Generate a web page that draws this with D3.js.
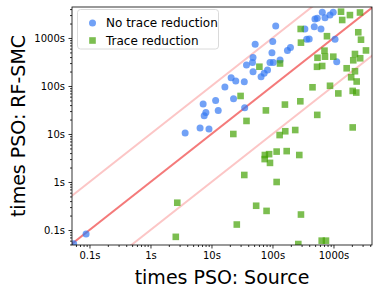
<!DOCTYPE html>
<html>
<head>
<script src="https://d3js.org/d3.v7.min.js"></script>
<style>
  body { margin: 0; background: #fff; }
  text { font-family: "DejaVu Sans", sans-serif; }
</style>
</head>
<body>
<svg width="379" height="295" id="chart"></svg>
<script>
// seconds
const noReduxX = [0.055, 0.088, 3.7, 6.5, 9.1, 7.3, 11.7, 8.1, 7.6, 12.9, 23, 35, 16.6, 21, 25, 34.5, 37.5, 47, 48, 52,
  48, 65, 73, 83, 91, 103, 133, 98, 101, 113, 176, 197, 340, 364, 400, 484, 624, 497, 542, 655, 726, 877, 990, 1060, 1130];
const noReduxY = [0.052, 0.083, 10.5, 13.3, 12.7, 42, 50, 28, 24, 31, 54, 35, 95, 149, 127, 123, 274, 309, 392, 740,
  199, 156, 184, 215, 309, 309, 348, 494, 840, 1780, 550, 630, 1540, 940, 950, 1720, 1540, 2490, 2570, 3430, 2650, 3000, 3430, 940, 321];

const reduxX = [2.6, 2.75, 22.8, 26, 30, 34.5, 37.5, 54, 61, 78, 75, 88, 74.5, 91, 80, 117, 117, 131, 133, 162, 160, 171,
  236, 265, 275, 286, 290, 293, 293, 453, 542, 547, 537, 641, 653, 712, 726, 753, 782, 877, 993, 1200, 1330, 1390, 1645,
  1860, 1950, 2065, 2065, 2110, 2250, 2250, 2365, 2400, 2550, 2720, 2740, 2825, 3410];
const reduxY = [0.072, 0.37, 10, 0.13, 62, 1.4, 18.7, 0.32, 252, 31, 3.65, 3.8, 3.0, 2.5, 0.25, 4.3, 1.0, 9.5, 294, 11.4, 41, 4.4,
  12.1, 0.051, 3.65, 48, 1540, 800, 0.21, 94, 25, 387, 251, 0.06, 261, 544, 408, 0.06, 1090, 101, 408, 70, 3530, 2370, 234,
  3000, 152, 13.7, 79, 343, 464, 203, 73, 124, 1315, 3400, 378, 922, 550];

const tickVals = [0.1, 1, 10, 100, 1000];
const tickLabels = ["0.1s", "1s", "10s", "100s", "1000s"];
const ratios = [0.1, 1, 10];   // reference lines y = r * x

const svg = d3.select("#chart");
const m = {left: 72, right: 372, top: 7, bottom: 245};

const x = d3.scaleLog().domain([0.0517, 4280]).range([m.left, m.right]);
const y = d3.scaleLog().domain([0.0487, 4420]).range([m.bottom, m.top]);

svg.append("defs").append("clipPath").attr("id", "clip")
  .append("rect").attr("x", m.left).attr("y", m.top).attr("width", m.right - m.left).attr("height", m.bottom - m.top);

const plot = svg.append("g").attr("clip-path", "url(#clip)");

// y = x/10, x, 10x
const lineX = [0.001, 100000];
plot.selectAll("line.ref").data(ratios).join("line")
  .attr("class", "ref")
  .attr("x1", x(lineX[0])).attr("x2", x(lineX[1]))
  .attr("y1", r => y(r * lineX[0])).attr("y2", r => y(r * lineX[1]))
  .attr("stroke", r => r === 1 ? "#f47a7a" : "#fcc6c6")
  .attr("stroke-width", 2);

const blue = noReduxX.map((v, i) => ({x: v, y: noReduxY[i]}));
const green = reduxX.map((v, i) => ({x: v, y: reduxY[i]}));

plot.selectAll("circle.noredux").data(blue).join("circle")
  .attr("class", "noredux")
  .attr("cx", d => x(d.x)).attr("cy", d => y(d.y))
  .attr("r", 3.5)
  .attr("fill", "#3479f2").attr("opacity", 0.7);

plot.selectAll("rect.redux").data(green).join("rect")
  .attr("class", "redux")
  .attr("x", d => x(d.x) - 3.3).attr("y", d => y(d.y) - 3.3)
  .attr("width", 6.6).attr("height", 6.6)
  .attr("fill", "#45a205").attr("opacity", 0.7);

// axes
const fmt = d => tickLabels[tickVals.indexOf(d)];
const minors = [];
for (let e = -2; e <= 3; e++) for (let k = 2; k <= 9; k++) minors.push(k * Math.pow(10, e));

function styleAxis(g) {
  g.select(".domain").remove();
  g.selectAll("line").attr("stroke", "#000").attr("stroke-width", 0.8);
  g.selectAll("text").attr("font-size", 10).attr("fill", "#000").attr("font-family", "DejaVu Sans");
}

svg.append("g").attr("transform", `translate(0,${m.bottom})`)
  .call(d3.axisBottom(x).tickValues(tickVals).tickFormat(fmt).tickSize(3.5).tickPadding(3.5))
  .call(styleAxis);
svg.append("g").attr("transform", `translate(0,${m.bottom})`)
  .call(d3.axisBottom(x).tickValues(minors.filter(v => v > 0.0517 && v < 4280)).tickFormat("").tickSize(2))
  .call(styleAxis);

svg.append("g").attr("transform", `translate(${m.left},0)`)
  .call(d3.axisLeft(y).tickValues(tickVals).tickFormat(fmt).tickSize(3.5).tickPadding(3.5))
  .call(styleAxis);
svg.append("g").attr("transform", `translate(${m.left},0)`)
  .call(d3.axisLeft(y).tickValues(minors.filter(v => v > 0.0487 && v < 4420)).tickFormat("").tickSize(2))
  .call(styleAxis);

// frame
svg.append("rect").attr("x", m.left).attr("y", m.top).attr("width", m.right - m.left).attr("height", m.bottom - m.top)
  .attr("fill", "none").attr("stroke", "#000").attr("stroke-width", 0.8);

// axis titles
svg.append("text").attr("x", (m.left + m.right) / 2).attr("y", 284)
  .attr("text-anchor", "middle").attr("font-size", 19).text("times PSO: Source");
svg.append("text").attr("transform", `translate(25,${(m.top + m.bottom) / 2}) rotate(-90)`)
  .attr("text-anchor", "middle").attr("font-size", 19).text("times PSO: RF-SMC");

// legend
const legend = svg.append("g");
legend.append("rect").attr("x", 77.5).attr("y", 9.5).attr("width", 141).attr("height", 39.5).attr("rx", 3)
  .attr("fill", "#fff").attr("fill-opacity", 0.8).attr("stroke", "#d0d0d0").attr("stroke-width", 0.8);
legend.append("circle").attr("cx", 92.5).attr("cy", 23).attr("r", 3.5).attr("fill", "#3479f2").attr("opacity", 0.7);
legend.append("rect").attr("x", 89.2).attr("y", 37.2).attr("width", 6.6).attr("height", 6.6)
  .attr("fill", "#45a205").attr("opacity", 0.7);
legend.append("text").attr("x", 106).attr("y", 27.3).attr("font-size", 12).text("No trace reduction");
legend.append("text").attr("x", 106).attr("y", 44.5).attr("font-size", 12).text("Trace reduction");
</script>
</body>
</html>
